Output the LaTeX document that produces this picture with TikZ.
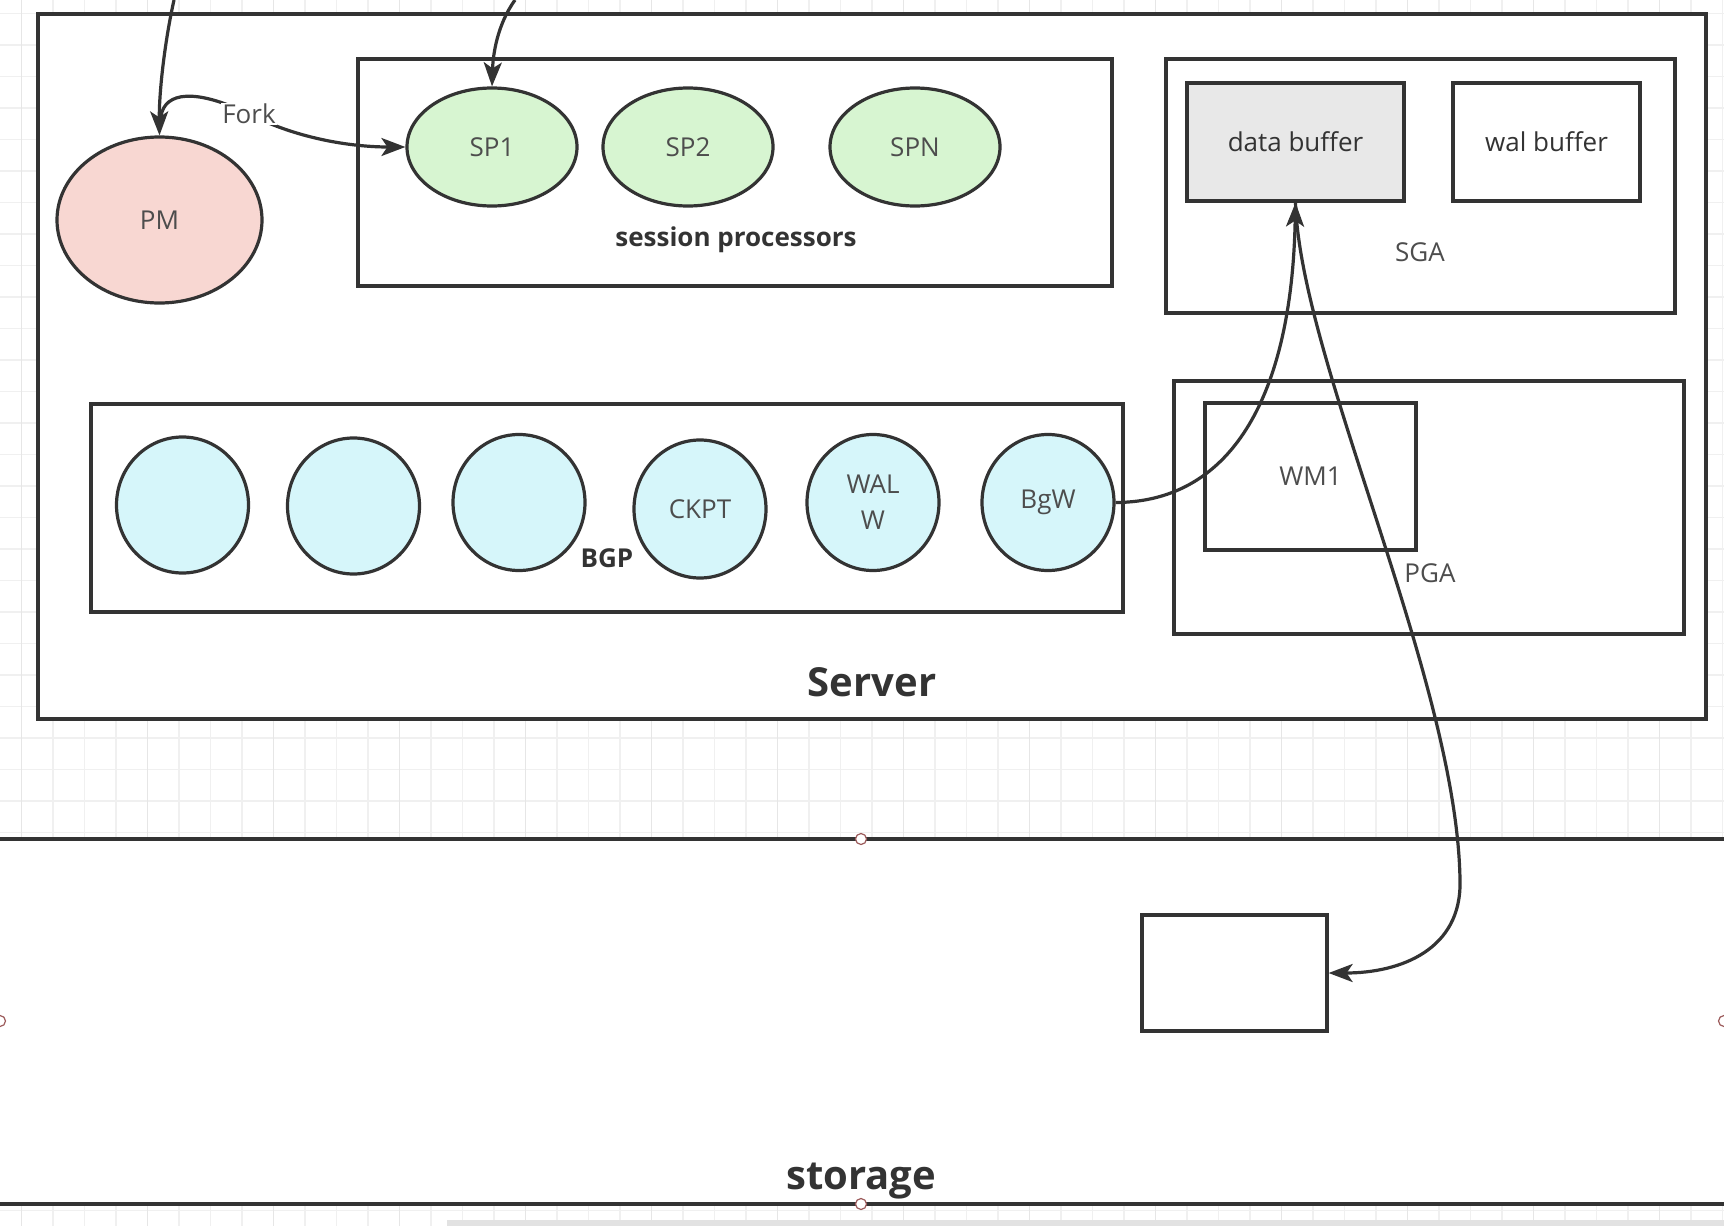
\documentclass[tikz,border=0pt]{standalone}
\usepackage{fontspec}
\setmainfont{Open Sans}
\usetikzlibrary{arrows.meta, shapes.geometric}
\definecolor{ink}{HTML}{333333}
\definecolor{txt}{HTML}{4D4D4D}
\definecolor{pmFill}{HTML}{F8D7D2}
\definecolor{spFill}{HTML}{D7F5D1}
\definecolor{bgFill}{HTML}{D6F6FA}
\definecolor{bufFill}{HTML}{E8E8E8}
\definecolor{gridA}{HTML}{F0F0F0}
\definecolor{gridB}{HTML}{E6E6E6}
\definecolor{handle}{HTML}{9C5B5B}
\definecolor{barGray}{HTML}{E2E2E2}
\tikzset{
  plaintext/.style={font=\fontsize{26}{36}\selectfont, text=txt},
  boldtext/.style={font=\bfseries\fontsize{26}{30}\selectfont, text=ink},
  bigtext/.style={font=\bfseries\fontsize{40}{44}\selectfont, text=ink},
  frame/.style={draw=ink, line width=3.2pt, fill=white, inner sep=0pt, plaintext},
  proc/.style={ellipse, draw=ink, line width=3.2pt, inner sep=0pt, plaintext},
  pmproc/.style={proc, fill=pmFill},
  sproc/.style={proc, fill=spFill, minimum width=170pt, minimum height=118pt},
  bgproc/.style={proc, fill=bgFill, minimum width=132pt, minimum height=136pt},
  flow/.style={draw=ink, line width=3.2pt, -{Stealth[length=24pt, width=18pt, inset=6pt]}},
  gridline/.style={draw=gridA, line width=1.2pt},
  gridmajor/.style={draw=gridB, line width=1.2pt},
  handledot/.style={circle, draw=handle, fill=white, line width=1.2pt, minimum size=11pt, inner sep=0pt}
}

\begin{document}
\begin{tikzpicture}[x=1pt,y=-1pt]
\useasboundingbox (0,0) rectangle (1724,1226);

\foreach \i in {0,...,54} {
  \draw[gridline] ({21.5+31.5*\i},0) -- ({21.5+31.5*\i},1226);
}
\foreach \j in {0,...,38} {
  \draw[gridline] (0,{13.5+31.5*\j}) -- (1724,{13.5+31.5*\j});
}
\foreach \i in {0,4,...,52} {
  \draw[gridmajor] ({21.5+31.5*\i},0) -- ({21.5+31.5*\i},1226);
}
\fill[white] (0,839) rectangle (1724,1204);

\node[frame, minimum width=1668pt, minimum height=705pt] (server) at (872,366.5) {};
\node[bigtext] (serverlbl) at (872,682) {Server};

\node[frame, minimum width=754pt, minimum height=227pt] (sessbox) at (735,172.5) {};
\node[boldtext] (sesslbl) at (736,240) {session processors};
\node[sproc] (SP1) at (492,147) {SP1};
\node[sproc] (SP2) at (688,147) {SP2};
\node[sproc] (SPN) at (915,147) {SPN};

\node[pmproc, minimum width=205pt, minimum height=166pt] (PM) at (159.5,220) {PM};

\node[frame, minimum width=509pt, minimum height=254pt] (SGA) at (1420.5,186) {};
\node[plaintext] (sgalbl) at (1420,252) {SGA};
\node[frame, fill=bufFill, text=ink, minimum width=217pt, minimum height=118pt] (databuf) at (1295.5,142) {data buffer};
\node[frame, text=ink, minimum width=187pt, minimum height=118pt] (walbuf) at (1546.5,142) {wal buffer};

\node[frame, minimum width=510pt, minimum height=253pt] (PGA) at (1429,507.5) {};
\node[frame, minimum width=211pt, minimum height=147pt] (WM1) at (1310.5,476.5) {WM1};
\node[plaintext] (pgalbl) at (1430,573) {PGA};

\node[frame, minimum width=1032pt, minimum height=208pt] (BGP) at (607,508) {};
\node[bgproc] (bg1) at (182.5,505) {};
\node[bgproc] (bg2) at (353.5,506) {};
\node[bgproc] (bg3) at (519,502.5) {};
\node[bgproc, minimum height=138pt] (CKPT) at (700,509) {CKPT};
\node[bgproc, align=center] (WALW) at (873,502.5) {WAL\\W};
\node[bgproc] (BgW) at (1048,502.5) {BgW};
\node[boldtext] (bgplbl) at (607,558) {BGP};

\draw[ink, line width=3.2pt] (0,839) -- (1724,839);
\draw[ink, line width=3.2pt] (0,1204) -- (1724,1204);
\node[bigtext] (storagelbl) at (861,1181) {storage};
\node[frame, minimum width=185pt, minimum height=116pt] (store) at (1234.5,973) {};
\node[handledot] (h1) at (861,839) {};
\node[handledot] (h2) at (0,1021) {};
\node[handledot] (h3) at (1724,1021) {};
\node[handledot] (h4) at (861,1204) {};
\fill[barGray] (447,1220) rectangle (1724,1226);

\coordinate (inPM) at (174,0);
\coordinate (inSP) at (515,0);
\coordinate (forkstart) at (161,116);
\draw[flow] (inPM) .. controls (164,45) and (159,95) .. (PM.north);
\draw[flow] (inSP) .. controls (497,25) and (493,55) .. (SP1.north);
\draw[flow] (forkstart) .. controls (165,92) and (195,88) .. (249,114)
  node[plaintext, fill=white, inner sep=1pt] (fork) {Fork}
  .. controls (300,140) and (355,147) .. (SP1.west);
\draw[flow] (BgW.east) .. controls (1235,502) and (1292,390) .. (databuf.south);
\draw[flow] (databuf.south) .. controls (1300,360) and (1457,680) .. (1460,880)
  .. controls (1462,950) and (1400,973) .. (store.east);

\end{tikzpicture}
\end{document}
